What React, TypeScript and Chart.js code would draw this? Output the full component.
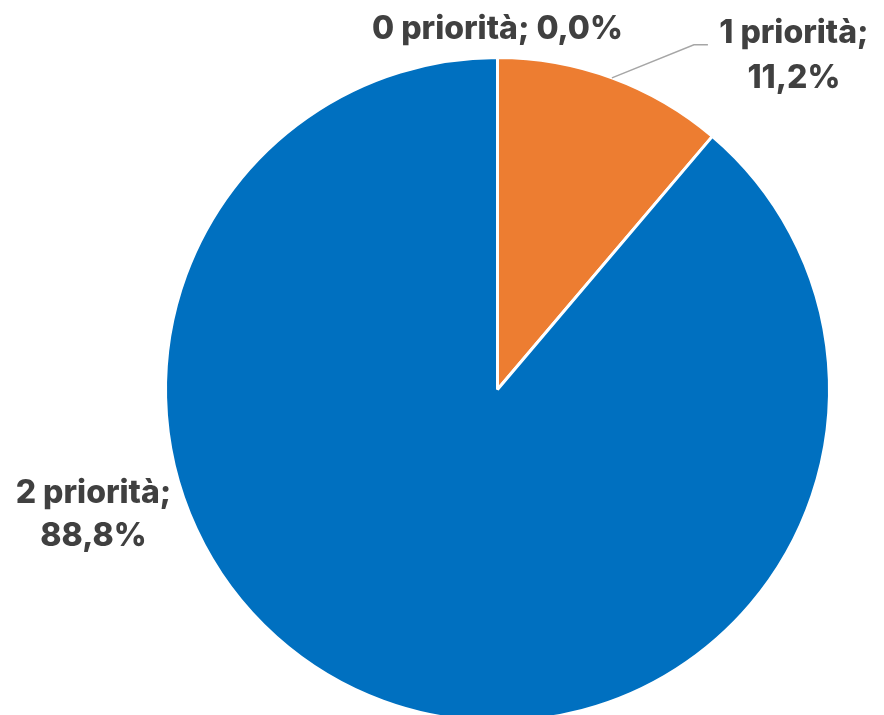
import React, { useEffect, useRef } from "react";
import { Chart, registerables } from "chart.js";

Chart.register(...registerables);

const categories = ["0 priorità", "1 priorità", "2 priorità"];
const values = [0.0, 11.2, 88.8];
const colors = ["#A5A5A5", "#ED7D31", "#0070C0"];

const fmt = (v: number) => v.toFixed(1).replace(".", ",") + "%";

const labelPlugin = {
  id: "pieLabels",
  afterDraw(chart: any) {
    const ctx = chart.ctx;
    const meta = chart.getDatasetMeta(0);
    const arcs = meta.data;
    const a0 = arcs[0];
    const cx = a0.x;
    const cy = a0.y;
    const r = a0.outerRadius;
    ctx.save();
    ctx.fillStyle = "#404040";
    ctx.font = "800 32px Inter";
    ctx.textAlign = "center";
    ctx.textBaseline = "middle";
    // label 0: above the top of the pie
    ctx.fillText(`${categories[0]}; ${fmt(values[0])}`, cx, cy - r - 28);
    // label 1: leader line from slice middle
    const a1 = arcs[1];
    const mid = (a1.startAngle + a1.endAngle) / 2;
    const px = cx + Math.cos(mid) * r;
    const py = cy + Math.sin(mid) * r;
    const ex = px + 82;
    const ey = py - 33;
    ctx.strokeStyle = "#A6A6A6";
    ctx.lineWidth = 1.5;
    ctx.beginPath();
    ctx.moveTo(px, py);
    ctx.lineTo(ex, ey);
    ctx.lineTo(ex + 14, ey);
    ctx.stroke();
    const l1x = ex + 100;
    ctx.fillText(`${categories[1]};`, l1x, ey - 11);
    ctx.fillText(fmt(values[1]), l1x, ey + 34);
    // label 2: left of the pie
    const l2x = cx - r - 72;
    ctx.fillText(`${categories[2]};`, l2x, cy + 104);
    ctx.fillText(fmt(values[2]), l2x, cy + 147);
    ctx.restore();
  },
};

export default function App() {
  const ref = useRef<HTMLCanvasElement>(null);
  useEffect(() => {
    document.body.style.margin = "0";
    const chart = new Chart(ref.current!, {
      type: "pie",
      data: {
        labels: categories,
        datasets: [
          {
            data: values,
            backgroundColor: colors,
            borderColor: "#FFFFFF",
            borderWidth: 3,
          },
        ],
      },
      options: {
        animation: false,
        responsive: false,
        layout: { padding: { left: 164, right: 53, top: 56, bottom: 7 } },
        plugins: {
          legend: { display: false },
          tooltip: { enabled: false },
        },
      },
      plugins: [labelPlugin],
    });
    return () => chart.destroy();
  }, []);
  return (
    <div style={{ position: "fixed", left: 0, top: 0, width: 884, height: 715, overflow: "hidden", background: "#fff" }}>
      <canvas ref={ref} width={884} height={730} style={{ width: 884, height: 730 }} />
    </div>
  );
}
